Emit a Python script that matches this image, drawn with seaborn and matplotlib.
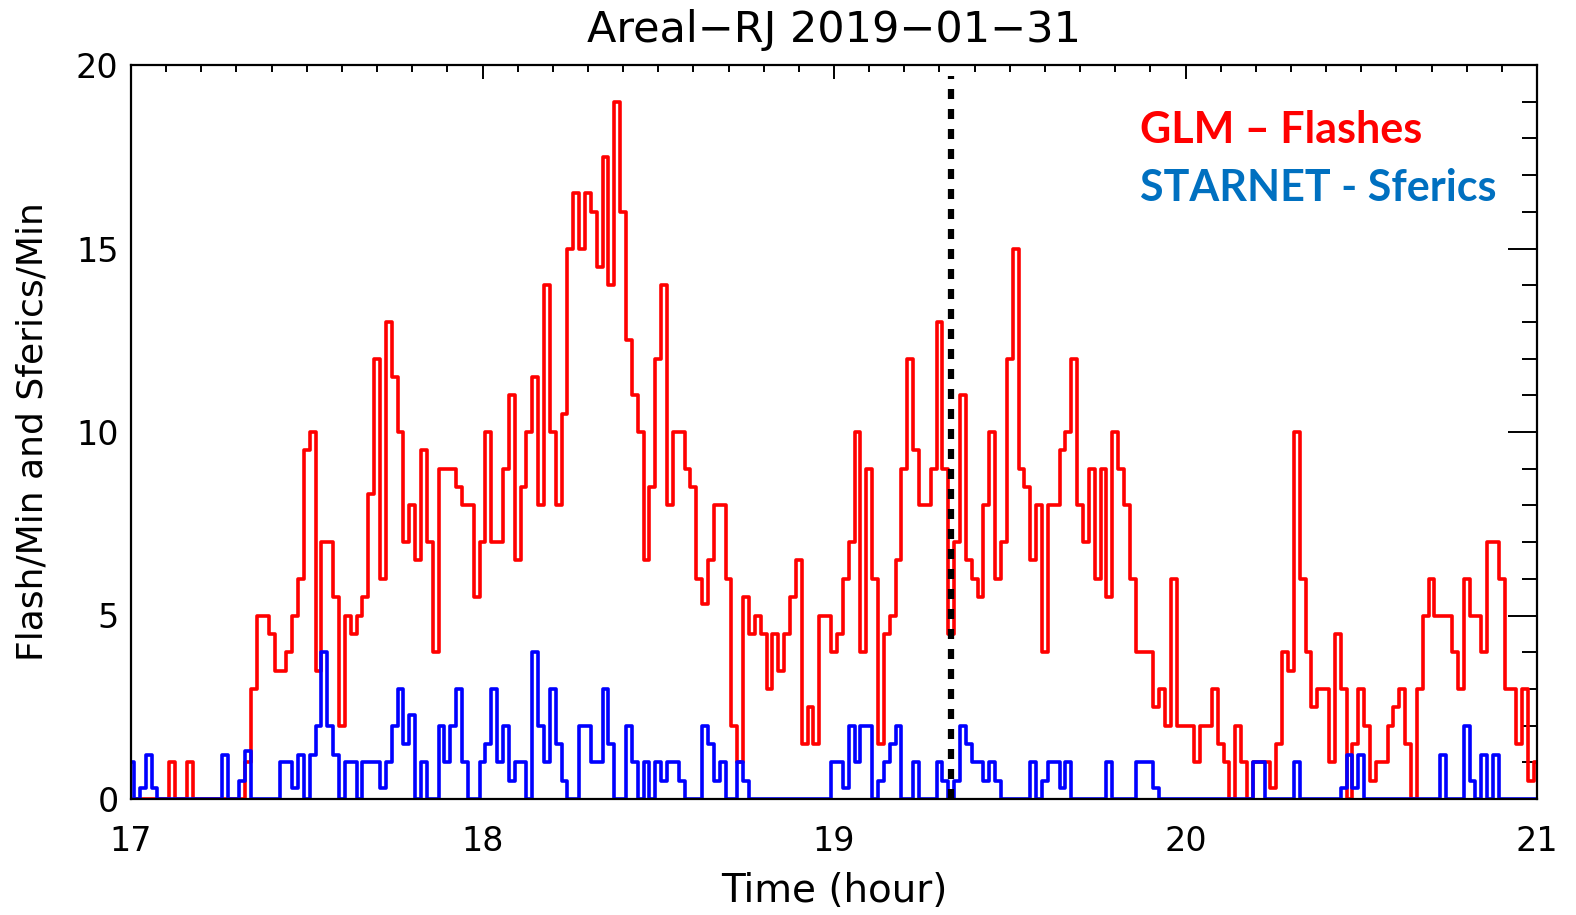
import numpy as np
import pandas as pd
import matplotlib
matplotlib.use("Agg")
import matplotlib.pyplot as plt
from matplotlib.ticker import MultipleLocator
import seaborn as sns

# minute-by-minute rates, 17:00 to 21:00 (241 samples)
glm_flashes = [
    0, 0, 0, 0, 0, 0, 0, 1, 0, 0,
    1, 0, 0, 0, 0, 0, 0, 0, 0, 0,
    1, 3, 5, 5, 4.5, 3.5, 3.5, 4, 5, 6,
    9.5, 10, 3.5, 7, 7, 5.5, 2, 5, 4.5, 5,
    5.5, 8.3, 12, 6, 13, 11.5, 10, 7, 8, 6.5,
    9.5, 7, 4, 9, 9, 9, 8.5, 8, 8, 5.5,
    7, 10, 7, 7, 9, 11, 6.5, 8.5, 10, 11.5,
    8, 14, 10, 8, 10.5, 15, 16.5, 15, 16.5, 16,
    14.5, 17.5, 14, 19, 16, 12.5, 11, 10, 6.5, 8.5,
    12, 14, 8, 10, 10, 9, 8.5, 6, 5.3, 6.5,
    8, 8, 6, 2, 1, 5.5, 4.5, 5, 4.5, 3,
    4.5, 3.5, 4.5, 5.5, 6.5, 1.5, 2.5, 1.5, 5, 5,
    4, 4.5, 6, 7, 10, 4, 9, 6, 1.5, 4.5,
    5, 6.5, 9, 12, 9.5, 8, 8, 9, 13, 9,
    4.5, 7, 11, 6.5, 6, 5.5, 8, 10, 6, 7,
    12, 15, 9, 8.5, 6.5, 8, 4, 8, 8, 9.5,
    10, 12, 8, 7, 9, 6, 9, 5.5, 10, 9,
    8, 6, 4, 4, 4, 2.5, 3, 2, 6, 2,
    2, 2, 1, 2, 2, 3, 1.5, 1, 0, 2,
    1, 0, 1, 1, 1, 0.3, 1.5, 4, 3.5, 10,
    6, 4, 2.5, 3, 3, 1, 4.5, 3, 0, 1.5,
    3, 2, 0.5, 1, 1, 2, 2.5, 3, 1.5, 0,
    3, 5, 6, 5, 5, 5, 4, 3, 6, 5,
    5, 4, 7, 7, 6, 3, 3, 1.5, 3, 0.5,
    1,
]

starnet_sferics = [
    1, 0, 0.3, 1.2, 0.3, 0, 0, 0, 0, 0,
    0, 0, 0, 0, 0, 0, 1.2, 0, 0, 0.5,
    1.3, 0, 0, 0, 0, 0, 1, 1, 0.3, 1.2,
    0, 1.2, 2, 4, 2, 1.2, 0, 1, 1, 0,
    1, 1, 1, 0.3, 1, 2, 3, 1.5, 2.3, 0,
    1, 0, 0, 2, 1, 2, 3, 1, 0, 0,
    1, 1.5, 3, 1, 2, 0.5, 1, 1, 0, 4,
    2, 1, 3, 1.5, 0.5, 0, 0, 2, 2, 1,
    1, 3, 1.5, 0, 0, 2, 1, 0, 1, 0,
    1, 0.5, 1, 1, 0.5, 0, 0, 0, 2, 1.5,
    0.5, 1, 0, 0, 1, 0.5, 0, 0, 0, 0,
    0, 0, 0, 0, 0, 0, 0, 0, 0, 0,
    1, 1, 0.3, 2, 1, 2, 2, 0, 0.5, 1,
    1.5, 2, 0, 0, 1, 0, 0, 0, 1, 0.5,
    0, 0.5, 2, 1.5, 1, 1, 0.5, 1, 0.5, 0,
    0, 0, 0, 0, 1, 0, 0.5, 1, 1, 0.3,
    1, 0, 0, 0, 0, 0, 0, 1, 0, 0,
    0, 0, 1, 1, 1, 0.3, 0, 0, 0, 0,
    0, 0, 0, 0, 0, 0, 0, 0, 0, 0,
    0, 0, 1, 1, 0, 0, 0, 0, 0, 1,
    0, 0, 0, 0, 0, 0, 0, 0.3, 1.2, 0.3,
    1.2, 0, 0, 0, 0, 0, 0, 0, 0, 0,
    0, 0, 0, 0, 1.2, 0, 0, 0, 2, 0.5,
    0, 1.2, 0, 1.2, 0, 0, 0, 0, 0, 0,
    0,
]

event_hour = 19 + 20 / 60  # dashed marker
x_ticks = [17, 18, 19, 20, 21]
y_ticks = [0, 5, 10, 15, 20]

hours = 17 + np.arange(len(glm_flashes)) / 60
df = pd.DataFrame({"hour": hours, "glm": glm_flashes, "starnet": starnet_sferics})

sns.set_style("white")
plt.rcParams["font.family"] = ["DejaVu Sans"]
plt.rcParams.update({"text.color": "black", "axes.labelcolor": "black",
                     "xtick.color": "black", "ytick.color": "black"})

fig = plt.figure(figsize=(15.76, 9.15), dpi=100)
ax = fig.add_axes([131 / 1576, 1 - 799 / 915, 1406 / 1576, 734 / 915])

sns.lineplot(data=df, x="hour", y="glm", ax=ax, color="#FF0000", lw=2.6,
             drawstyle="steps-mid", estimator=None, legend=False)
sns.lineplot(data=df, x="hour", y="starnet", ax=ax, color="#0000FF", lw=2.6,
             drawstyle="steps-mid", estimator=None, legend=False)

ax.vlines(event_hour, 0, 19.7, colors="black", lw=4.5, linestyles=(0, (1.6, 1.6)))

ax.set_xlim(17, 21)
ax.set_ylim(0, 20)
ax.set_xticks(x_ticks)
ax.set_yticks(y_ticks)
ax.xaxis.set_minor_locator(MultipleLocator(0.1))
ax.yaxis.set_minor_locator(MultipleLocator(1))
ax.tick_params(which="both", direction="in", top=True, right=True, width=1.4, color="black")
ax.tick_params(axis="x", which="major", length=10, pad=19, labelsize=24)
ax.tick_params(axis="x", which="minor", length=5)
ax.tick_params(axis="y", which="major", length=21, pad=9, labelsize=24)
ax.tick_params(axis="y", which="minor", length=11)
for s in ax.spines.values():
    s.set_linewidth(1.6)
    s.set_color("black")

ax.set_xlabel("Time (hour)", fontsize=28)
ax.set_ylabel("Flash/Min and Sferics/Min", fontsize=26)
ax.xaxis.set_label_coords(0.5, -0.10)
ax.yaxis.set_label_coords(-0.058, 0.5)

fig.text(834 / 1576, 1 - 30 / 915, "Areal\u2212RJ 2019\u221201\u221231", fontsize=31,
         ha="center", va="center")

ax.text(0.7176, 0.911, "GLM \u2013 Flashes", transform=ax.transAxes, color="#FF0000",
        fontsize=31, fontweight="bold", family="Lato", va="center", ha="left")
ax.text(0.7176, 0.832, "STARNET - Sferics", transform=ax.transAxes, color="#0070C0",
        fontsize=31, fontweight="bold", family="Lato", va="center", ha="left")

fig.savefig("out.png", dpi=100)
plt.close(fig)
